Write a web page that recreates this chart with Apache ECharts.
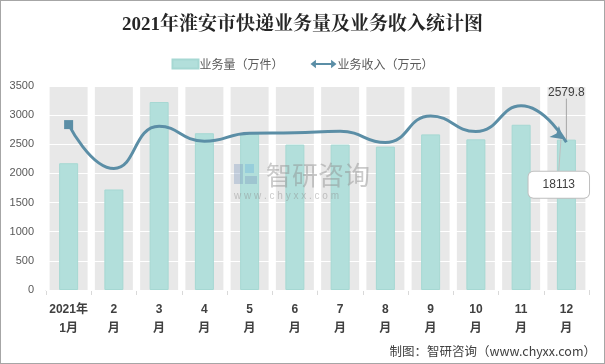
<!DOCTYPE html>
<html>
<head>
<meta charset="utf-8">
<script src="https://cdn.jsdelivr.net/npm/echarts@6/dist/echarts.min.js"></script>
<style>
html,body{margin:0;padding:0;background:#fff;}
#c{width:605px;height:364px;box-sizing:border-box;border:1px solid #a6a6a6;}
</style>
</head>
<body>
<div id="c"></div>
<script>
var categories = ['2021年\n1月','2\n月','3\n月','4\n月','5\n月','6\n月','7\n月','8\n月','9\n月','10\n月','11\n月','12\n月'];
var volume = [2175, 1725, 3225, 2690, 2680, 2495, 2495, 2460, 2670, 2585, 2835, 2579.8];
var revenue = [20270, 14890, 20060, 18240, 19210, 19260, 19450, 18080, 21320, 19420, 22570, 18113];
var yTicks = [0, 500, 1000, 1500, 2000, 2500, 3000, 3500];

var chart = echarts.init(document.getElementById('c'), null, {renderer:'canvas'});
var lineColor = '#5b8ea6';
var barColor = '#b2dfdb';

var lineData = revenue.map(function(v, i){
  var item = {value: v, symbol: 'none'};
  if (i === 0) { item.symbol = 'rect'; item.symbolSize = 9; }
  if (i === revenue.length - 1) {
    item.symbol = 'arrow'; item.symbolSize = [11, 12]; item.symbolRotate = -130; item.symbolOffset = [-3, -3];
    item.label = {show: true, position: 'bottom', formatter: '{c}', color: '#404040', fontSize: 12,
      fontFamily: 'Liberation Sans, Arial, sans-serif',
      backgroundColor: '#fff', borderColor: '#bfbfbf', borderWidth: 1, borderRadius: 5, padding: [7, 14]};
  }
  return item;
});
var barData = volume.map(function(v, i){
  var item = {value: v};
  if (i === volume.length - 1) {
    item.label = {show: true, position: 'top', formatter: '{c}', color: '#404040', fontSize: 12,
      fontFamily: 'Liberation Sans, Arial, sans-serif'};
  }
  return item;
});

var option = {
  backgroundColor: '#fff',
  animation: false,
  title: {
    text: '2021年淮安市快递业务量及业务收入统计图',
    left: 'center', top: 10,
    textStyle: {fontSize: 19, fontWeight: 'bold', color: '#262626',
      fontFamily: '"Liberation Serif", "Noto Serif CJK SC", "Noto Sans CJK SC", serif'}
  },
  legend: {
    top: 52, left: 'center', itemGap: 27, itemWidth: 26, itemHeight: 9,
    textStyle: {fontSize: 12, color: '#595959', fontFamily: '"Noto Sans CJK SC", sans-serif', padding: [0,0,0,-4]},
    data: [
      {name: '业务量（万件）', icon: 'rect', itemStyle: {color: barColor}},
      {name: '业务收入（万元）', icon: 'path://M0,4 L5,0 L5,3 L19,3 L19,0 L24,4 L19,8 L19,5 L5,5 L5,8 Z', itemStyle: {color: lineColor}}
    ]
  },
  grid: {left: 45, right: 15, top: 85, bottom: 73, containLabel: false},
  xAxis: [{
    type: 'category', data: categories,
    axisLine: {lineStyle: {color: '#d9d9d9'}},
    axisTick: {show: true, length: 5, lineStyle: {color: '#d9d9d9'}},
    axisLabel: {color: '#404040', fontWeight: 'bold', fontSize: 12, lineHeight: 19, margin: 10, interval: 0,
      fontFamily: '"Liberation Sans", "Noto Sans CJK SC", sans-serif'}
  }, {
    type: 'category', data: categories, show: false
  }],
  yAxis: [{
    type: 'value', min: yTicks[0], max: yTicks[yTicks.length - 1], interval: yTicks[1] - yTicks[0], z: 1,
    axisLine: {show: false}, axisTick: {show: false},
    axisLabel: {color: '#595959', fontSize: 11, margin: 12, fontFamily: '"Liberation Sans", Arial, sans-serif',
      formatter: function(v){ return String(v); }},
    splitLine: {lineStyle: {color: '#ffffff', width: 1}}
  }, {
    type: 'value', min: 0, max: 25000, show: false, splitLine: {show: false}
  }],
  graphic: [
    {type: 'text', left: 265, top: 161, z: 100, style: {text: '智研咨询', fontSize: 26, fill: 'rgba(140,140,140,0.45)', fontFamily: '"Noto Sans CJK SC", sans-serif'}},
    {type: 'text', left: 233, top: 190, z: 100, style: {text: 'w w w . c h y x x . c o m', fontSize: 10, fill: 'rgba(140,140,140,0.45)', fontFamily: '"Liberation Sans", sans-serif'}},
    {type: 'rect', left: 233, top: 163, z: 100, shape: {width: 9, height: 20}, style: {fill: 'rgba(120,150,190,0.35)'}},
    {type: 'rect', left: 244, top: 163, z: 100, shape: {width: 9, height: 9}, style: {fill: 'rgba(110,180,220,0.4)'}},
    {type: 'rect', left: 244, top: 175, z: 100, shape: {width: 12, height: 8}, style: {fill: 'rgba(120,150,190,0.35)'}},
    {type: 'text', right: 8, top: 344, style: {text: '制图：智研咨询（www.chyxx.com）', fontSize: 12.5, fill: '#404040', fontFamily: '"Noto Sans CJK SC", sans-serif'}}
  ],
  series: [{
    name: 'bg', type: 'bar', xAxisIndex: 1, yAxisIndex: 0, data: volume, barWidth: 38, z: 0,
    itemStyle: {opacity: 0}, showBackground: true, backgroundStyle: {color: '#e8e8e8'},
    silent: true
  }, {
    name: '业务量（万件）', type: 'bar', xAxisIndex: 0, yAxisIndex: 0, data: barData, barWidth: 19, z: 2,
    itemStyle: {color: barColor, borderColor: '#a6d8d3', borderWidth: 1},
    labelLayout: {dy: -36},
    labelLine: {show: true, lineStyle: {color: '#a6a6a6', width: 1}}
  }, {
    name: '业务收入（万元）', type: 'line', xAxisIndex: 0, yAxisIndex: 1, data: lineData, z: 3,
    smooth: 0.5, showSymbol: true,
    lineStyle: {color: lineColor, width: 3},
    itemStyle: {color: lineColor},
    labelLayout: {dy: 22},
    labelLine: {show: true, lineStyle: {color: '#bfbfbf', width: 1}}
  }]
};
chart.setOption(option);
</script>
</body>
</html>
